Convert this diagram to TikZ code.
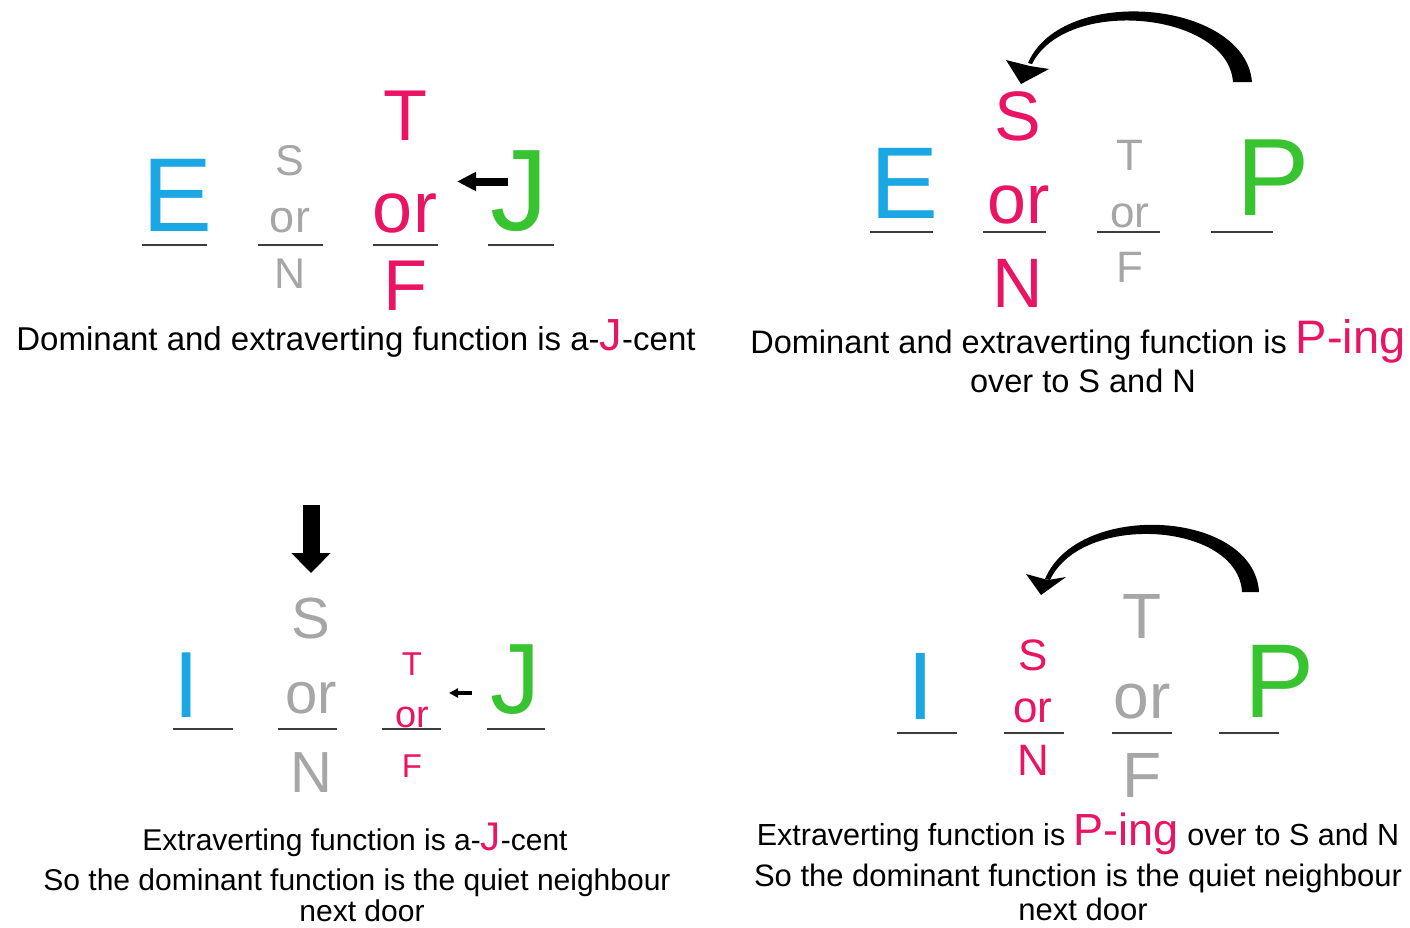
\documentclass[tikz,border=0pt]{standalone}
\usepackage{fontspec}
\setmainfont{Liberation Sans}
\usetikzlibrary{arrows.meta}
\definecolor{mbcyan}{RGB}{27,167,228}
\definecolor{mbpink}{RGB}{233,20,100}
\definecolor{mbgreen}{RGB}{56,196,48}
\definecolor{mbgray}{RGB}{166,166,166}
\definecolor{mbline}{RGB}{60,60,60}
\newcommand\myfs[1]{\fontsize{#1}{#1}\selectfont}
\begin{document}
\begin{tikzpicture}[x=1pt,y=-1pt,
  letter/.style={anchor=base,inner sep=0pt,outer sep=0pt},
  captext/.style={anchor=base,inner sep=0pt,outer sep=0pt,text=black},
  uline/.style={draw=mbline,line width=2.6pt},
  fatarrow/.style={draw=black}]
\useasboundingbox[fill=white] (0,0) rectangle (1410,927);

% ---------------- top-left ----------------
\node[letter,text=mbcyan,font=\myfs{105}] (tlE) at (178,231) {E};
\node[letter,text=mbgray,font=\myfs{43}] (tlS) at (290,175) {S};
\node[letter,text=mbgray,font=\myfs{45}] (tlSor) at (290,232) {or};
\node[letter,text=mbgray,font=\myfs{43}] (tlN) at (290,288) {N};
\node[letter,text=mbpink,font=\myfs{72}] (tlT) at (405,140) {T};
\node[letter,text=mbpink,font=\myfs{72}] (tlTor) at (405,232) {or};
\node[letter,text=mbpink,font=\myfs{72}] (tlF) at (405,310) {F};
\node[letter,text=mbgreen,font=\myfs{116}] (tlJ) at (519,230) {J};
\draw[uline] (142,245) -- (207,245);
\draw[uline] (258,245) -- (323,245);
\draw[uline] (373,245) -- (438,245);
\draw[uline] (488,245) -- (554,245);
\coordinate (tlA1) at (508,181.5);
\coordinate (tlA2) at (457,181.5);
\draw[fatarrow,line width=8pt,-{Triangle[length=19pt,width=18pt]}] (tlA1) -- (tlA2);
\node[captext,font=\myfs{33}] (tlcap) at (356,350) {Dominant and extraverting function is a-{\color{mbpink}\myfs{45}J}-cent};

% ---------------- top-right ----------------
\node[letter,text=mbcyan,font=\myfs{102}] (trE) at (905,218) {E};
\node[letter,text=mbpink,font=\myfs{70}] (trS) at (1018,140) {S};
\node[letter,text=mbpink,font=\myfs{70}] (trSor) at (1019,223) {or};
\node[letter,text=mbpink,font=\myfs{70}] (trN) at (1018,307) {N};
\node[letter,text=mbgray,font=\myfs{44}] (trT) at (1130,170) {T};
\node[letter,text=mbgray,font=\myfs{44}] (trTor) at (1130,227) {or};
\node[letter,text=mbgray,font=\myfs{44}] (trF) at (1130,282) {F};
\node[letter,text=mbgreen,font=\myfs{110}] (trP) at (1273,215) {P};
\draw[uline] (870,232) -- (933,232);
\draw[uline] (983,232) -- (1046,232);
\draw[uline] (1097,232) -- (1160,232);
\draw[uline] (1211,232) -- (1273,232);
\fill[black] (1252,82) .. controls (1245,0) and (1062,-16) .. (1028,63)
  -- (1032,64) .. controls (1066,-4) and (1228,12) .. (1233,82) -- cycle;
\fill[black] (1021,84) -- (1006,60) -- (1030,66) -- (1049,69) -- cycle;
\node[captext,font=\myfs{32.5}] (trcap1) at (1078,353) {Dominant and extraverting function is {\color{mbpink}\myfs{47}P-ing}};
\node[captext,font=\myfs{32.5}] (trcap2) at (1083,392) {over to S and N};

% ---------------- bottom-left ----------------
\node[letter,text=mbcyan,font=\myfs{94}] (blI) at (187,717) {I};
\node[letter,text=mbgray,font=\myfs{58}] (blS) at (311,638) {S};
\node[letter,text=mbgray,font=\myfs{58}] (blSor) at (311,713) {or};
\node[letter,text=mbgray,font=\myfs{58}] (blN) at (311,792) {N};
\node[letter,text=mbpink,font=\myfs{33}] (blT) at (412,675) {T};
\node[letter,text=mbpink,font=\myfs{38}] (blTor) at (412,727) {or};
\node[letter,text=mbpink,font=\myfs{33}] (blF) at (412,777) {F};
\node[letter,text=mbgreen,font=\myfs{100}] (blJ) at (515,713) {J};
\draw[uline] (173,729) -- (233,729);
\draw[uline] (278,729) -- (337,729);
\draw[uline] (382,729) -- (441,729);
\draw[uline] (487,729) -- (545,729);
\coordinate (blD1) at (311,505);
\coordinate (blD2) at (311,573);
\draw[fatarrow,line width=17pt,-{Triangle[length=20pt,width=38pt]}] (blD1) -- (blD2);
\coordinate (blA1) at (472,693);
\coordinate (blA2) at (449,693);
\draw[fatarrow,line width=4pt,-{Triangle[length=9pt,width=9pt]}] (blA1) -- (blA2);
\node[captext,font=\myfs{30}] (blcap1) at (355,850) {Extraverting function is a-{\color{mbpink}\myfs{40}J}-cent};
\node[captext,font=\myfs{30}] (blcap2) at (357,890) {So the dominant function is the quiet neighbour};
\node[captext,font=\myfs{30}] (blcap3) at (362,921) {next door};

% ---------------- bottom-right ----------------
\node[letter,text=mbcyan,font=\myfs{96}] (brI) at (921,719) {I};
\node[letter,text=mbpink,font=\myfs{44}] (brS) at (1033,670) {S};
\node[letter,text=mbpink,font=\myfs{44}] (brSor) at (1033,722) {or};
\node[letter,text=mbpink,font=\myfs{44}] (brN) at (1033,775) {N};
\node[letter,text=mbgray,font=\myfs{64}] (brT) at (1142,638) {T};
\node[letter,text=mbgray,font=\myfs{64}] (brTor) at (1142,718) {or};
\node[letter,text=mbgray,font=\myfs{64}] (brF) at (1142,797) {F};
\node[letter,text=mbgreen,font=\myfs{105}] (brP) at (1279,717) {P};
\draw[uline] (897,733) -- (957,733);
\draw[uline] (1004,733) -- (1064,733);
\draw[uline] (1112,733) -- (1172,733);
\draw[uline] (1219,733) -- (1279,733);
\fill[black] (1259,592) .. controls (1254,510) and (1078,500) .. (1045,579)
  -- (1050,580) .. controls (1082,512) and (1238,522) .. (1242,592) -- cycle;
\fill[black] (1041,595) -- (1026,574) -- (1048,580) -- (1066,577) -- cycle;
\node[captext,font=\myfs{30.5}] (brcap1) at (1078,845) {Extraverting function is {\color{mbpink}\myfs{45}P-ing} over to S and N};
\node[captext,font=\myfs{31}] (brcap2) at (1078,886) {So the dominant function is the quiet neighbour};
\node[captext,font=\myfs{31}] (brcap3) at (1083,920) {next door};
\end{tikzpicture}
\end{document}
